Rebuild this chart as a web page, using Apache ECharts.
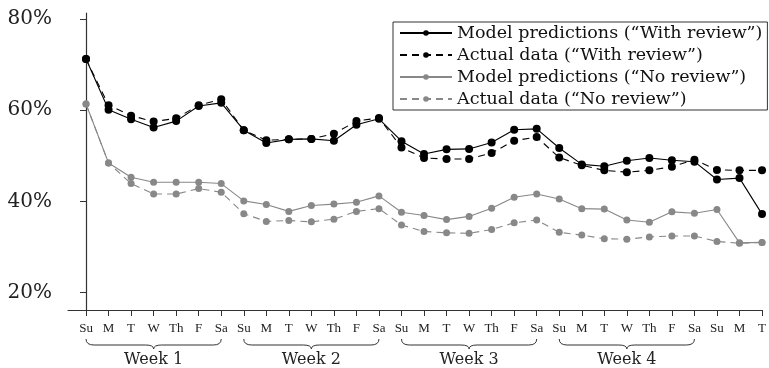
<!DOCTYPE html>
<html>
<head>
<meta charset="utf-8">
<script src="https://cdn.jsdelivr.net/npm/echarts@6/dist/echarts.min.js"></script>
<style>
  html, body { margin: 0; padding: 0; background: #fff; }
  #chart { width: 769px; height: 368px; }
</style>
</head>
<body>
<div id="chart"></div>
<script>
'use strict';

// day labels along x, 4 full weeks + 3 days
var days = ['Su', 'M', 'T', 'W', 'Th', 'F', 'Sa',
  'Su', 'M', 'T', 'W', 'Th', 'F', 'Sa',
  'Su', 'M', 'T', 'W', 'Th', 'F', 'Sa',
  'Su', 'M', 'T', 'W', 'Th', 'F', 'Sa',
  'Su', 'M', 'T'];
var weeks = ['Week 1', 'Week 2', 'Week 3', 'Week 4'];
var yTicks = [20, 40, 60, 80];

var modelWith = [71.2, 60.1, 58.0, 56.2, 57.6, 60.9, 61.6, 55.6, 52.8, 53.6, 53.7, 53.3, 56.8, 58.1,
  53.2, 50.4, 51.4, 51.5, 52.9, 55.7, 55.9, 51.7, 48.1, 47.7, 48.9, 49.5, 49.0, 48.7, 44.8, 45.1, 37.2];
var actualWith = [71.2, 61.1, 58.8, 57.5, 58.2, 61.1, 62.4, 55.6, 53.4, 53.6, 53.7, 54.8, 57.6, 58.3,
  51.8, 49.5, 49.3, 49.3, 50.6, 53.3, 54.1, 49.6, 47.9, 46.8, 46.4, 46.8, 47.6, 49.1, 46.9, 46.8, 46.8];
var modelNo = [61.35, 48.4, 45.3, 44.2, 44.2, 44.2, 43.9, 40.1, 39.3, 37.8, 39.1, 39.4, 39.8, 41.2,
  37.6, 36.9, 36.0, 36.7, 38.5, 40.9, 41.6, 40.5, 38.4, 38.3, 35.9, 35.4, 37.7, 37.4, 38.2, 30.9, 31.0];
var actualNo = [61.35, 48.4, 43.9, 41.6, 41.6, 42.8, 42.0, 37.3, 35.6, 35.8, 35.5, 36.1, 37.8, 38.4,
  34.8, 33.4, 33.1, 33.0, 33.8, 35.3, 35.9, 33.2, 32.6, 31.8, 31.7, 32.2, 32.4, 32.4, 31.2, 30.8, 31.0];

var serif = 'DejaVu Serif';
var dayIdx = days.map(function (d, i) { return i; });
var weekMid = weeks.map(function (w, i) { return i * 7 + 3; });

function pairs(arr) {
  return arr.map(function (v, i) { return [i, v]; });
}

function mkSeries(name, arr, color, dashed, size) {
  return {
    name: name,
    type: 'line',
    data: pairs(arr),
    symbol: 'circle',
    symbolSize: size,
    itemStyle: { color: color },
    lineStyle: { color: color, width: 1.1, type: dashed ? [7, 5] : 'solid' },
    z: color === '#000' ? 3 : 2
  };
}

var chart = echarts.init(document.getElementById('chart'));

var option = {
  animation: false,
  backgroundColor: '#fff',
  grid: { left: 68, right: 0, top: 13, bottom: 57 },
  legend: {
    orient: 'vertical',
    left: 393,
    top: 22,
    padding: [2, 5, 2, 6],
    itemGap: 4,
    itemWidth: 52,
    itemHeight: 7,
    borderColor: '#333',
    borderWidth: 1,
    backgroundColor: '#fff',
    textStyle: { fontFamily: serif, fontSize: 17.5, lineHeight: 17, color: '#111' },
    data: ['Model predictions (\u201cWith review\u201d)', 'Actual data (\u201cWith review\u201d)',
      'Model predictions (\u201cNo review\u201d)', 'Actual data (\u201cNo review\u201d)']
  },
  xAxis: [{
    type: 'value',
    min: -0.8,
    max: 30,
    splitLine: { show: false },
    axisLine: { show: true, lineStyle: { color: '#333', width: 1.2 } },
    axisTick: { show: true, length: 6, customValues: dayIdx, lineStyle: { color: '#333' } },
    axisLabel: {
      customValues: dayIdx,
      margin: 12,
      fontFamily: 'Liberation Serif',
      fontSize: 13,
      color: '#222',
      formatter: function (v) { return days[Math.round(v)]; }
    }
  }, {
    type: 'value',
    position: 'bottom',
    min: -0.8,
    max: 30,
    splitLine: { show: false },
    axisLine: { show: false },
    axisTick: { show: false },
    axisLabel: {
      customValues: weekMid,
      margin: 42,
      fontFamily: serif,
      fontSize: 16,
      color: '#222',
      formatter: function (v) { return weeks[Math.round((v - 3) / 7)]; }
    }
  }],
  yAxis: {
    type: 'value',
    min: 16.17,
    max: 81.31,
    splitLine: { show: false },
    axisLine: { show: true, lineStyle: { color: '#333', width: 1.2 } },
    axisTick: { show: true, length: 6, customValues: yTicks, lineStyle: { color: '#333' } },
    axisLabel: {
      customValues: yTicks,
      margin: 16,
      fontFamily: serif,
      fontSize: 20,
      color: '#222',
      formatter: function (v) { return Math.round(v) + '%'; }
    }
  },
  series: [
    mkSeries('Model predictions (\u201cWith review\u201d)', modelWith, '#000', false, 8),
    mkSeries('Actual data (\u201cWith review\u201d)', actualWith, '#000', true, 8),
    mkSeries('Model predictions (\u201cNo review\u201d)', modelNo, '#888', false, 7),
    mkSeries('Actual data (\u201cNo review\u201d)', actualNo, '#888', true, 7)
  ]
};
chart.setOption(option);

// curly braces under each week, placed through the x scale
var braceStyle = { fill: null, stroke: '#333', lineWidth: 1 };
var braces = [];
weeks.forEach(function (w, k) {
  var x1 = chart.convertToPixel({ xAxisIndex: 0 }, k * 7);
  var x2 = chart.convertToPixel({ xAxisIndex: 0 }, k * 7 + 6);
  var xm = (x1 + x2) / 2;
  var y0 = 339, y1 = 345, y2 = 349;
  braces.push(
    { type: 'bezierCurve', shape: { x1: x1, y1: y0, cpx1: x1, cpy1: y1, x2: x1 + 8, y2: y1 }, style: braceStyle },
    { type: 'line', shape: { x1: x1 + 8, y1: y1, x2: xm - 8, y2: y1 }, style: braceStyle },
    { type: 'bezierCurve', shape: { x1: xm - 8, y1: y1, cpx1: xm, cpy1: y1, x2: xm, y2: y2 }, style: braceStyle },
    { type: 'bezierCurve', shape: { x1: xm, y1: y2, cpx1: xm, cpy1: y1, x2: xm + 8, y2: y1 }, style: braceStyle },
    { type: 'line', shape: { x1: xm + 8, y1: y1, x2: x2 - 8, y2: y1 }, style: braceStyle },
    { type: 'bezierCurve', shape: { x1: x2 - 8, y1: y1, cpx1: x2, cpy1: y1, x2: x2, y2: y0 }, style: braceStyle }
  );
});
chart.setOption({ graphic: braces });
</script>
</body>
</html>
